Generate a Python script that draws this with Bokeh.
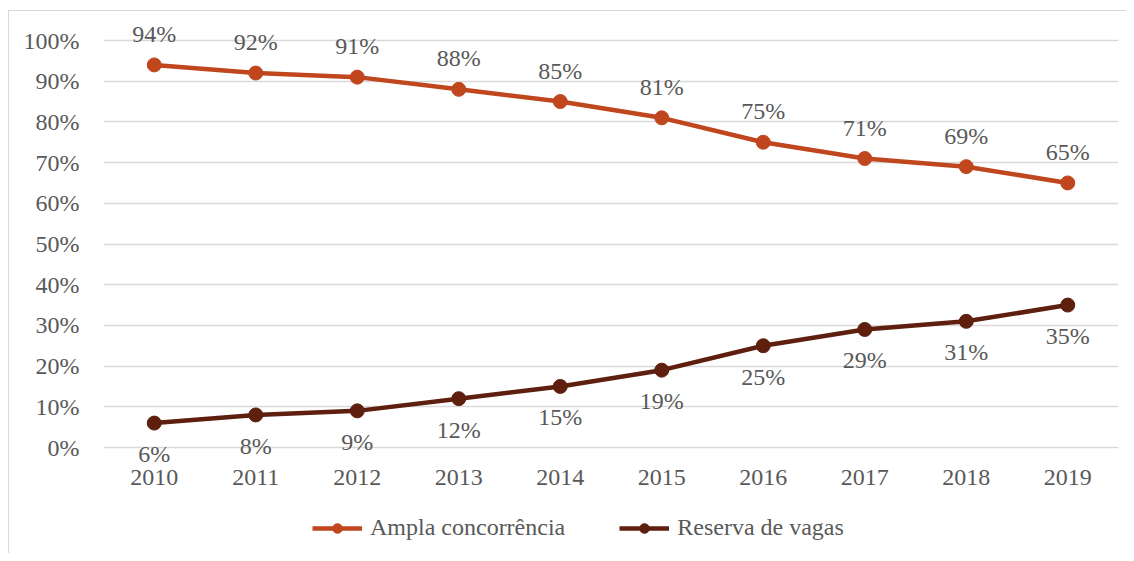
from bokeh.plotting import figure
from bokeh.layouts import column
from bokeh.models import Range1d, FixedTicker, NumeralTickFormatter, ColumnDataSource, LabelSet, Legend, LegendItem
from bokeh.embed import file_html
from bokeh.resources import INLINE
from bokeh.core.properties import value

years = [2010, 2011, 2012, 2013, 2014, 2015, 2016, 2017, 2018, 2019]
ampla = [0.94, 0.92, 0.91, 0.88, 0.85, 0.81, 0.75, 0.71, 0.69, 0.65]
reserva = [0.06, 0.08, 0.09, 0.12, 0.15, 0.19, 0.25, 0.29, 0.31, 0.35]
series_names = ["Ampla concorrência", "Reserva de vagas"]
colors = ["#C0461E", "#5E1F0E"]

FONT = "Liberation Serif"
GRAY = "#595959"
FS = "24px"

p = figure(width=1117, height=542, output_backend="svg", toolbar_location=None,
           x_range=Range1d(2009.5, 2019.5), y_range=Range1d(-106 / 407, 1 + 26 / 407),
           min_border_left=94, min_border_right=8, min_border_top=3, min_border_bottom=0)
p.outline_line_color = None
p.xgrid.grid_line_color = None
p.ygrid.grid_line_color = "#d9d9d9"
p.ygrid.grid_line_width = 1.5

p.yaxis.ticker = FixedTicker(ticks=[i / 10 for i in range(11)])
p.yaxis.formatter = NumeralTickFormatter(format="0%")
p.xaxis.ticker = FixedTicker(ticks=years)
p.xaxis.fixed_location = 0
for ax in (p.xaxis, p.yaxis):
    ax.axis_line_color = None
    ax.major_tick_line_color = None
    ax.minor_tick_line_color = None
    ax.major_label_text_font = FONT
    ax.major_label_text_font_size = FS
    ax.major_label_text_color = GRAY
p.xaxis.major_label_standoff = 16
p.yaxis.major_label_standoff = 18

items = []
for vals, name, col, off in [(ampla, series_names[0], colors[0], 31),
                              (reserva, series_names[1], colors[1], -31)]:
    src = ColumnDataSource(dict(x=years, y=vals, lab=[f"{round(v*100)}%" for v in vals]))
    r1 = p.line("x", "y", source=src, line_color=col, line_width=4.5)
    r2 = p.scatter("x", "y", source=src, size=14, fill_color=col, line_color=col)
    items.append(LegendItem(label=name, renderers=[r1, r2]))
    p.add_layout(LabelSet(x="x", y="y", text="lab", source=src, y_offset=off,
                          text_align="center", text_baseline="middle",
                          text_font=value(FONT), text_font_size=FS, text_color=GRAY))

legend = Legend(items=items, orientation="horizontal", location=(209, 12),
                label_text_font=FONT, label_text_font_size=FS, label_text_color=GRAY,
                glyph_width=50, glyph_height=24, label_height=24, label_standoff=8,
                spacing=54, border_line_color=None, background_fill_alpha=0,
                margin=0, padding=0)
p.add_layout(legend)

layout = column(p, spacing=0, margin=(10, 0, 0, 8),
                styles={"border-left": "1px solid #d9d9d9", "border-top": "1px solid #d9d9d9"})

open("out.html", "w").write(file_html(layout, INLINE))
